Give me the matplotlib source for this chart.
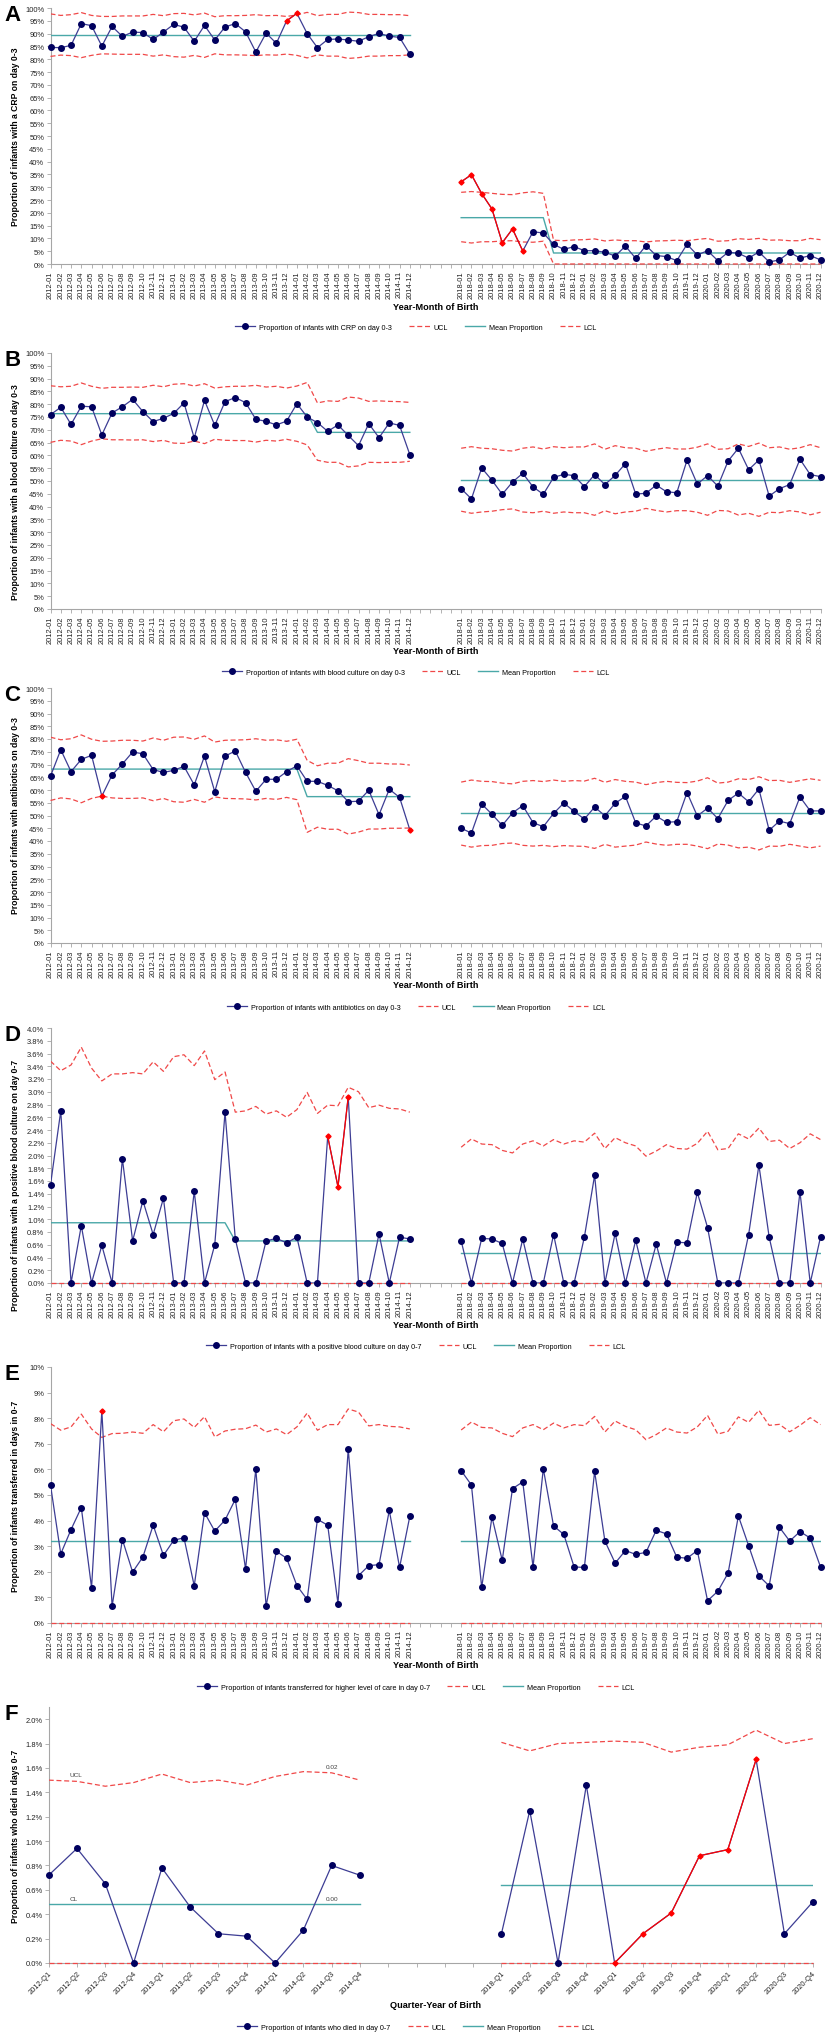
import numpy as np
import matplotlib
matplotlib.use("Agg")
import matplotlib.pyplot as plt
from matplotlib.lines import Line2D

plt.rcParams['font.family'] = ['Liberation Sans', 'DejaVu Sans']

# ---- categories ----
months_2012 = [f"{y}-{m:02d}" for y in (2012, 2013, 2014) for m in range(1, 13)]
months_2018 = [f"{y}-{m:02d}" for y in (2018, 2019, 2020) for m in range(1, 13)]
quarters_2012 = [f"{y}-Q{q}" for y in (2012, 2013, 2014) for q in range(1, 5)]
quarters_2018 = [f"{y}-Q{q}" for y in (2018, 2019, 2020) for q in range(1, 5)]

# ---- A: CRP on day 0-3 (%) ----
crp_2012 = [84.6, 84.5, 85.4, 93.9, 93.1, 85.1, 92.8, 88.9, 90.6, 90.4, 87.7, 90.6,
            93.6, 92.5, 87.0, 93.2, 87.5, 92.6, 93.9, 90.7, 82.8, 90.2, 86.2, 95.0,
            97.9, 90.0, 84.5, 87.7, 87.9, 87.5, 87.0, 88.8, 90.1, 89.0, 88.5, 82.0]
crp_mean_2012 = [89.4] * 36
crp_ucl_2012 = [97.7, 97.1, 97.4, 98.2, 97.1, 96.7, 96.7, 96.9, 96.9, 96.9, 97.5, 97.0,
                97.8, 97.9, 97.3, 98.0, 96.6, 97.0, 97.0, 97.1, 97.4, 97.0, 97.1, 96.7,
                97.3, 98.3, 97.0, 97.5, 97.5, 98.4, 98.2, 97.5, 97.5, 97.4, 97.4, 97.0]
crp_lcl_2012 = [81.1, 81.6, 81.4, 80.6, 81.5, 82.1, 82.0, 81.9, 81.9, 81.9, 81.2, 81.7,
                81.0, 80.8, 81.5, 80.7, 82.1, 81.7, 81.7, 81.6, 81.4, 81.7, 81.6, 82.0,
                81.5, 80.5, 81.7, 81.2, 81.2, 80.3, 80.6, 81.2, 81.2, 81.4, 81.4, 81.7]
crp_red_2012 = [23, 24]
crp_2018 = [32.1, 34.9, 27.5, 21.5, 8.3, 13.7, 5.1, 12.6, 12.1, 7.7, 5.7, 6.8,
            5.2, 5.2, 4.6, 3.1, 7.0, 2.2, 7.2, 3.3, 2.9, 1.3, 7.7, 3.5,
            5.2, 1.3, 4.6, 4.2, 2.3, 4.7, 0.8, 1.6, 4.6, 2.3, 3.3, 1.6]
crp_mean_2018 = [18.1] * 9 + [4.3] * 27
crp_ucl_2018 = [28.0, 28.3, 28.0, 27.6, 27.2, 27.1, 27.8, 28.2, 27.6, 9.3, 9.1, 9.4,
                9.5, 9.8, 9.0, 9.4, 9.1, 9.1, 8.6, 9.0, 9.1, 9.3, 9.1, 9.6,
                10.0, 8.9, 9.1, 9.9, 9.6, 10.0, 9.3, 9.4, 9.1, 9.1, 10.0, 9.5]
crp_lcl_2018 = [8.7, 8.2, 8.7, 8.7, 9.0, 9.1, 8.6, 8.5, 8.9] + [0.0] * 27
crp_red_2018 = [0, 1, 2, 3, 4, 5, 6]

# ---- B: blood culture on day 0-3 (%) ----
bc_2012 = [75.9, 78.8, 72.1, 79.2, 79.0, 68.0, 76.6, 79.0, 81.9, 77.1, 73.2, 74.5,
           76.4, 80.5, 66.8, 81.5, 71.7, 81.0, 82.6, 80.6, 74.1, 73.3, 71.9, 73.4,
           80.2, 75.0, 72.8, 69.4, 71.9, 67.8, 63.8, 72.4, 66.9, 72.7, 71.7, 60.3]
bc_mean_2012 = [76.3] * 26 + [69.0] * 10
bc_ucl_2012 = [87.2, 86.8, 87.0, 88.3, 87.0, 86.2, 86.6, 86.6, 86.7, 86.6, 87.4, 86.8,
               87.8, 88.0, 87.1, 88.0, 86.3, 86.8, 87.0, 87.0, 87.4, 86.7, 87.0, 86.3,
               87.1, 88.5, 80.5, 81.3, 81.1, 82.8, 82.4, 81.1, 81.3, 81.1, 81.0, 80.7]
bc_lcl_2012 = [65.1, 65.9, 65.6, 64.2, 65.6, 66.5, 66.1, 66.1, 66.0, 66.1, 65.4, 65.9,
               64.8, 64.7, 65.6, 64.6, 66.3, 65.9, 65.8, 65.8, 65.2, 65.9, 65.6, 66.3,
               65.5, 64.1, 58.1, 57.3, 57.3, 55.5, 55.9, 57.3, 57.2, 57.3, 57.3, 57.7]
bc_2018 = [47.0, 43.0, 55.1, 50.3, 44.8, 49.6, 53.0, 47.7, 44.8, 51.4, 52.6, 52.1,
           47.8, 52.5, 48.6, 52.2, 56.8, 44.9, 45.2, 48.4, 45.8, 45.4, 58.1, 48.8,
           52.1, 48.0, 57.8, 62.8, 54.4, 58.2, 44.1, 47.0, 48.6, 58.5, 52.5, 51.7]
bc_mean_2018 = [50.5] * 36
bc_ucl_2018 = [62.8, 63.4, 62.8, 62.6, 62.0, 61.7, 62.8, 63.3, 62.5, 63.4, 63.0, 63.3,
               63.3, 64.5, 62.4, 63.8, 63.0, 62.8, 61.6, 62.4, 63.0, 62.5, 62.5, 63.2,
               64.5, 62.4, 62.6, 64.5, 63.5, 64.8, 63.0, 63.3, 62.4, 63.0, 64.2, 63.0]
bc_lcl_2018 = [38.2, 37.4, 37.9, 38.2, 38.8, 39.1, 37.9, 37.6, 38.2, 37.4, 37.9, 37.6,
               37.6, 36.6, 38.4, 37.2, 37.9, 38.2, 39.3, 38.5, 37.9, 38.4, 38.4, 37.8,
               36.6, 38.5, 38.3, 36.7, 37.4, 36.2, 37.8, 37.6, 38.4, 37.9, 36.8, 37.8]

# ---- C: antibiotics on day 0-3 (%) ----
abx_2012 = [65.4, 75.8, 67.2, 72.0, 73.6, 57.6, 65.9, 70.2, 74.9, 74.2, 68.0, 66.9,
            67.7, 69.3, 62.0, 73.3, 59.3, 73.3, 75.3, 66.9, 59.5, 64.2, 64.2, 67.2,
            69.5, 63.4, 63.4, 61.8, 59.7, 55.4, 55.6, 59.9, 50.3, 60.3, 57.1, 44.4]
abx_mean_2012 = [68.2] * 25 + [57.4] * 11
abx_ucl_2012 = [80.7, 79.7, 80.1, 81.6, 79.9, 79.1, 79.2, 79.5, 79.5, 79.2, 80.4, 79.5,
                80.7, 80.8, 79.9, 81.2, 78.8, 79.5, 79.6, 79.7, 80.1, 79.5, 79.7, 79.1,
                79.9, 71.6, 69.5, 70.5, 70.5, 72.3, 71.5, 70.5, 70.5, 70.2, 70.2, 69.8]
abx_lcl_2012 = [55.9, 56.9, 56.5, 55.0, 56.7, 57.6, 56.9, 56.7, 56.7, 56.9, 55.8, 56.7,
                55.4, 55.2, 56.3, 55.2, 57.3, 56.7, 56.6, 56.5, 56.1, 56.7, 56.3, 57.1,
                56.2, 43.4, 45.4, 44.6, 44.6, 42.7, 43.5, 44.7, 44.7, 45.0, 45.0, 45.1]
abx_red_2012 = [5, 35]
abx_2018 = [45.0, 43.1, 54.5, 50.5, 46.1, 51.0, 53.9, 47.2, 45.6, 50.8, 54.9, 51.6,
            48.6, 53.3, 49.9, 54.8, 57.5, 47.1, 45.9, 49.8, 47.3, 47.6, 59.0, 49.8,
            52.9, 48.8, 55.9, 58.8, 55.4, 60.4, 44.2, 47.8, 46.8, 57.3, 51.8, 51.8]
abx_mean_2018 = [50.8] * 36
abx_ucl_2018 = [63.1, 63.9, 63.4, 63.3, 62.7, 62.4, 63.4, 63.7, 63.3, 63.9, 63.4, 63.7,
                63.5, 64.6, 63.0, 64.1, 63.4, 63.1, 62.1, 62.9, 63.4, 63.0, 62.9, 63.5,
                64.8, 62.7, 63.1, 64.4, 64.1, 65.2, 63.7, 63.8, 63.0, 63.7, 64.4, 63.8]
abx_lcl_2018 = [38.4, 37.6, 38.2, 38.3, 39.0, 39.2, 38.3, 38.0, 38.3, 37.8, 38.2, 38.0,
                37.9, 37.1, 38.7, 37.6, 38.0, 38.4, 39.6, 38.8, 38.3, 38.7, 38.7, 38.0,
                37.0, 38.8, 38.4, 37.3, 37.6, 36.5, 38.0, 37.9, 38.7, 38.0, 37.3, 38.0]

# ---- D: positive blood culture on day 0-7 (%) ----
pbc_2012 = [1.54, 2.70, 0, 0.90, 0, 0.59, 0, 1.95, 0.66, 1.29, 0.76, 1.33,
            0, 0, 1.44, 0, 0.60, 2.68, 0.69, 0, 0, 0.66, 0.70, 0.63,
            0.72, 0, 0, 2.30, 1.51, 2.92, 0, 0, 0.77, 0, 0.72, 0.69]
pbc_mean_2012 = [0.945] * 18 + [0.66] * 18
pbc_ucl_2012 = [3.48, 3.33, 3.42, 3.70, 3.37, 3.17, 3.28, 3.28, 3.30, 3.28, 3.47, 3.32,
                3.55, 3.58, 3.41, 3.64, 3.19, 3.31, 2.68, 2.70, 2.77, 2.65, 2.70, 2.60,
                2.72, 2.99, 2.66, 2.79, 2.78, 3.07, 3.00, 2.75, 2.79, 2.74, 2.73, 2.68]
pbc_lcl_2012 = [0.0] * 36
pbc_red_2012 = [27, 28, 29]
pbc_2018 = [0.66, 0, 0.70, 0.69, 0.62, 0, 0.69, 0, 0, 0.76, 0, 0,
            0.72, 1.69, 0, 0.78, 0, 0.67, 0, 0.61, 0, 0.64, 0.63, 1.42,
            0.87, 0, 0, 0, 0.76, 1.85, 0.72, 0, 0, 1.43, 0, 0.72]
pbc_mean_2018 = [0.47] * 36
pbc_ucl_2018 = [2.13, 2.26, 2.18, 2.17, 2.08, 2.04, 2.18, 2.23, 2.15, 2.25, 2.18, 2.23,
                2.21, 2.35, 2.11, 2.28, 2.20, 2.15, 1.99, 2.07, 2.17, 2.11, 2.10, 2.19,
                2.38, 2.09, 2.11, 2.34, 2.26, 2.43, 2.22, 2.24, 2.11, 2.20, 2.34, 2.25]
pbc_lcl_2018 = [0.0] * 36

# ---- E: transferred for higher level of care in day 0-7 (%) ----
trf_2012 = [5.39, 2.70, 3.65, 4.51, 1.38, 8.29, 0.65, 3.26, 1.99, 2.58, 3.82, 2.64,
            3.23, 3.33, 1.45, 4.31, 3.59, 4.02, 4.83, 2.11, 6.02, 0.66, 2.80, 2.53,
            1.46, 0.92, 4.05, 3.82, 0.76, 6.80, 1.85, 2.24, 2.28, 4.40, 2.17, 4.17]
trf_mean_2012 = [3.19] * 36
trf_ucl_2012 = [7.79, 7.53, 7.66, 8.16, 7.58, 7.25, 7.40, 7.41, 7.46, 7.41, 7.75, 7.47,
                7.90, 7.97, 7.64, 8.06, 7.27, 7.50, 7.57, 7.59, 7.73, 7.46, 7.58, 7.36,
                7.66, 8.20, 7.53, 7.75, 7.75, 8.36, 8.24, 7.70, 7.75, 7.68, 7.66, 7.58]
trf_lcl_2012 = [0.0] * 36
trf_red_2012 = [5]
trf_2018 = [5.95, 5.39, 1.39, 4.14, 2.45, 5.25, 5.51, 2.19, 6.03, 3.79, 3.46, 2.19,
            2.17, 5.92, 3.20, 2.34, 2.83, 2.68, 2.76, 3.62, 3.48, 2.57, 2.53, 2.83,
            0.87, 1.24, 1.95, 4.18, 3.02, 1.84, 1.45, 3.74, 3.20, 3.57, 3.32, 2.19]
trf_mean_2018 = [3.22] * 36
trf_ucl_2018 = [7.54, 7.85, 7.64, 7.62, 7.41, 7.28, 7.62, 7.75, 7.55, 7.81, 7.62, 7.75,
                7.71, 8.07, 7.46, 7.89, 7.68, 7.55, 7.16, 7.36, 7.62, 7.46, 7.42, 7.66,
                8.11, 7.38, 7.49, 8.05, 7.84, 8.31, 7.72, 7.76, 7.47, 7.72, 8.02, 7.75]
trf_lcl_2018 = [0.0] * 36

# ---- F: died in day 0-7 (%), quarterly ----
death_2012 = [0.72, 0.94, 0.65, 0, 0.78, 0.46, 0.24, 0.22, 0, 0.27, 0.80, 0.72]
death_mean_2012 = [0.48] * 12
death_ucl_2012 = [1.50, 1.49, 1.45, 1.48, 1.55, 1.48, 1.50, 1.46, 1.53, 1.57, 1.56, 1.50]
death_lcl_2012 = [0.0] * 12
death_2018 = [0.24, 1.25, 0, 1.46, 0, 0.24, 0.41, 0.88, 0.93, 1.67, 0.24, 0.50]
death_mean_2018 = [0.64] * 12
death_ucl_2018 = [1.81, 1.74, 1.80, 1.81, 1.82, 1.81, 1.73, 1.77, 1.79, 1.91, 1.80, 1.84]
death_lcl_2018 = [0.0] * 12
death_red_2018 = [4, 5, 6, 7, 8, 9]

# ---- styling ----
W, H = 831, 2040
LINE = '#3d3d94'
NAVY = '#00005e'
RED = '#ff0000'
LIMIT = '#f04848'
MEAN = '#4aa8a8'
AXC = '#a6a6a6'
DASH = (0, (4, 2.2))

fig = plt.figure(figsize=(W / 100, H / 100), dpi=100)


def add_axes(top, bottom, left, right):
    return fig.add_axes([left / W, 1 - bottom / H, (right - left) / W, (bottom - top) / H])


def plot_series(ax, x, y, red):
    x = np.asarray(x)
    y = np.asarray(y)
    ax.plot(x, y, color=LINE, lw=0.9, zorder=4)
    for i in red:
        if i + 1 in red:
            ax.plot(x[i:i + 2], y[i:i + 2], color=RED, lw=0.9, zorder=5)
    blue = [i for i in range(len(x)) if i not in red]
    ax.plot(x[blue], y[blue], 'o', ms=4, color=NAVY, ls='none', zorder=6, clip_on=False)
    if red:
        ax.plot(x[red], y[red], 'D', ms=2.6, color=RED, ls='none', zorder=6, clip_on=False)


def plot_limits(ax, x, mean, ucl, lcl):
    ax.plot(x, ucl, color=LIMIT, lw=0.9, ls=DASH, zorder=3)
    ax.plot(x, lcl, color=LIMIT, lw=0.9, ls=DASH, zorder=3, clip_on=False)
    ax.plot(x, mean, color=MEAN, lw=1.0, zorder=3)


def style_axes(ax):
    for s in ('top', 'right'):
        ax.spines[s].set_visible(False)
    for s in ('left', 'bottom'):
        ax.spines[s].set_color(AXC)
        ax.spines[s].set_linewidth(0.8)
    ax.tick_params(axis='both', colors=AXC, labelcolor='#222222', length=3, width=0.6,
                   labelsize=5.4, pad=1.5)


def panel(letter, top, bottom, left, right, ylabel, ylabel_c, xlabel, legend_label,
          xlabel_y, legend_y, yticks, yfmt, ylim, left_data, right_data, quarterly=False):
    ax = add_axes(top, bottom, left, right)
    n_gap = 4
    n = len(left_data[0])
    xl = np.arange(n)
    xr = np.arange(n + n_gap, 2 * n + n_gap)
    for xs, (vals, mean, ucl, lcl, red) in ((xl, left_data), (xr, right_data)):
        plot_limits(ax, xs, mean, ucl, lcl)
        plot_series(ax, xs, vals, red)
    ax.set_xlim(0, 2 * n + n_gap - 1)
    ax.set_ylim(*ylim)
    ax.set_yticks(yticks)
    ax.set_yticklabels([yfmt.format(v) for v in yticks])
    ax.set_xticks(np.arange(2 * n + n_gap))
    cats = quarters_2012 + [''] * n_gap + quarters_2018 if quarterly else \
        months_2012 + [''] * n_gap + months_2018
    if quarterly:
        ax.set_xticklabels(cats, rotation=45, ha='right', rotation_mode='anchor')
    else:
        ax.set_xticklabels(cats, rotation=90, ha='center', va='top')
    style_axes(ax)
    fig.text(4 / W, 1 - (top - 4) / H, letter, fontsize=16, fontweight='bold', va='top', ha='left')
    fig.text(16 / W, 1 - ylabel_c / H, ylabel, rotation=90, fontsize=6.2,
             fontweight='bold', ha='center', va='center')
    fig.text(436 / W, 1 - xlabel_y / H, xlabel, fontsize=6.6, fontweight='bold',
             ha='center', va='center')
    handles = [Line2D([], [], color=LINE, lw=0.9, marker='o', ms=4, mfc=NAVY, mec=NAVY),
               Line2D([], [], color=LIMIT, lw=0.9, ls=DASH),
               Line2D([], [], color=MEAN, lw=1.0),
               Line2D([], [], color=LIMIT, lw=0.9, ls=DASH)]
    fig.legend(handles, [legend_label, 'UCL', 'Mean Proportion', 'LCL'], loc='center',
               bbox_to_anchor=(416 / W, 1 - legend_y / H), ncol=4, frameon=False,
               fontsize=5.2, handlelength=2.8, columnspacing=2.4, handletextpad=0.5)
    return ax


pct0 = '{:.0f}%'
pct1 = '{:.1f}%'

panel('A', 9, 265, 50.5, 820.5, 'Proportion of infants with a CRP on day 0-3', 137,
      'Year-Month of Birth', 'Proportion of infants with CRP on day 0-3', 307, 328,
      np.arange(0, 101, 5), pct0, (0, 100),
      (crp_2012, crp_mean_2012, crp_ucl_2012, crp_lcl_2012, crp_red_2012),
      (crp_2018, crp_mean_2018, crp_ucl_2018, crp_lcl_2018, crp_red_2018))

panel('B', 354, 610, 50.5, 820.5, 'Proportion of infants with a blood culture on day 0-3', 492,
      'Year-Month of Birth', 'Proportion of infants with blood culture on day 0-3', 652, 673,
      np.arange(0, 101, 5), pct0, (0, 100),
      (bc_2012, bc_mean_2012, bc_ucl_2012, bc_lcl_2012, []),
      (bc_2018, bc_mean_2018, bc_ucl_2018, bc_lcl_2018, []))

panel('C', 689, 944, 50.5, 820.5, 'Proportion of infants with antibiotics on day 0-3', 816,
      'Year-Month of Birth', 'Proportion of infants with antibiotics on day 0-3', 986, 1008,
      np.arange(0, 101, 5), pct0, (0, 100),
      (abx_2012, abx_mean_2012, abx_ucl_2012, abx_lcl_2012, abx_red_2012),
      (abx_2018, abx_mean_2018, abx_ucl_2018, abx_lcl_2018, []))

panel('D', 1029, 1284, 50.5, 820.5, 'Proportion of infants with a positive blood culture on day 0-7', 1185,
      'Year-Month of Birth', 'Proportion of infants with a positive blood culture on day 0-7', 1326, 1347,
      np.round(np.arange(0, 4.01, 0.2), 1), pct1, (0, 4.0),
      (pbc_2012, pbc_mean_2012, pbc_ucl_2012, pbc_lcl_2012, pbc_red_2012),
      (pbc_2018, pbc_mean_2018, pbc_ucl_2018, pbc_lcl_2018, []))

panel('E', 1368, 1624, 50.5, 820.5, 'Proportion of infants transferred in days in 0-7', 1496,
      'Year-Month of Birth', 'Proportion of infants transferred for higher level of care in day 0-7', 1666, 1688,
      np.arange(0, 11, 1), pct0, (0, 10),
      (trf_2012, trf_mean_2012, trf_ucl_2012, trf_lcl_2012, trf_red_2012),
      (trf_2018, trf_mean_2018, trf_ucl_2018, trf_lcl_2018, []))

axf = panel('F', 1708, 1964, 48.7, 812.7, 'Proportion of infants who died in days 0-7', 1836,
            'Quarter-Year of Birth', 'Proportion of infants who died in day 0-7', 2006, 2028,
            np.round(np.arange(0, 2.01, 0.2), 1), pct1, (0, 2.1),
            (death_2012, death_mean_2012, death_ucl_2012, death_lcl_2012, []),
            (death_2018, death_mean_2018, death_ucl_2018, death_lcl_2018, death_red_2018),
            quarterly=True)
for tx, ty, s in ((0.95, 1.545, 'UCL'), (10.0, 1.61, '0.02'), (0.9, 0.53, 'CL'), (10.0, 0.53, '0.00')):
    axf.text(tx, ty, s, fontsize=4.6, color='#404040', ha='center', va='center')

fig.savefig('out.png', dpi=100)
